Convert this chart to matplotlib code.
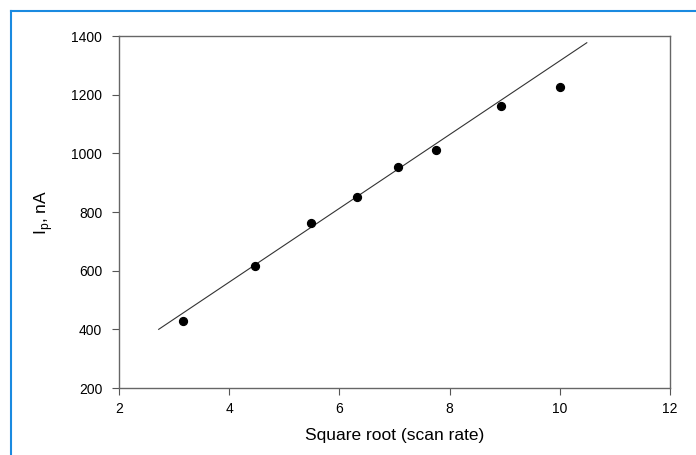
import matplotlib
matplotlib.use('Agg')
import matplotlib.pyplot as plt
from matplotlib.lines import Line2D

plt.rcParams['font.family'] = ['Liberation Sans', 'DejaVu Sans']

sqrt_rate = [3.16, 4.47, 5.48, 6.32, 7.07, 7.75, 8.94, 10.0]
peak_current = [428, 615, 762, 850, 953, 1013, 1161, 1226]
fit_x = [2.72, 10.49]
fit_y = [400, 1377]
x_ticks = [2, 4, 6, 8, 10, 12]
y_ticks = [200, 400, 600, 800, 1000, 1200, 1400]

fig = plt.figure(figsize=(6.96, 4.55), dpi=100)
ax = fig.add_axes([119 / 696, 1 - 388 / 455, 551 / 696, 352 / 455])

ax.plot(fit_x, fit_y, color='#333333', lw=0.8)
ax.scatter(sqrt_rate, peak_current, s=32, color='black', zorder=3)

ax.set_xlim(2, 12)
ax.set_ylim(200, 1400)
ax.set_xticks(x_ticks)
ax.set_yticks(y_ticks)
ax.tick_params(direction='out', length=5, width=0.8, color='#555555', labelsize=10, pad=5)
ax.tick_params(axis='y', pad=7)
for s in ax.spines.values():
    s.set_color('#666666')
    s.set_linewidth(1.0)
ax.set_xlabel('Square root (scan rate)', fontsize=12.5, labelpad=9)
ax.set_ylabel('I$_\\mathregular{p}$, nA', fontsize=12.5, labelpad=12)

# blue frame on left and top edges
fig.add_artist(Line2D([11 / 696, 11 / 696], [0, 1 - 11 / 455], transform=fig.transFigure, color='#1a8ae0', lw=1.5))
fig.add_artist(Line2D([11 / 696, 1], [1 - 11 / 455, 1 - 11 / 455], transform=fig.transFigure, color='#1a8ae0', lw=1.5))

fig.savefig('out.png', dpi=100)
